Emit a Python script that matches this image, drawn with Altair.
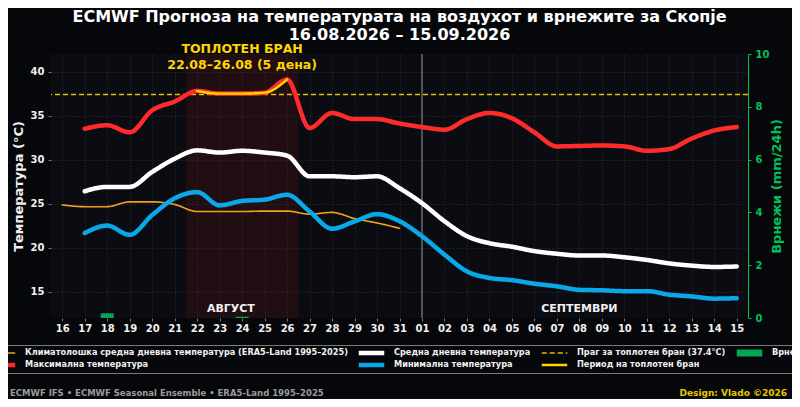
import altair as alt
import pandas as pd

# ---------------- data ----------------
fc_days = [f"2026-08-{d:02d}" for d in range(17, 32)] + [f"2026-09-{d:02d}" for d in range(1, 16)]
clim_days = [f"2026-08-{d:02d}" for d in range(16, 32)]

t_max = [33.5, 33.9, 33.1, 35.6, 36.6, 37.8, 37.5, 37.5, 37.6, 39.1, 33.6, 35.3, 34.6, 34.6, 34.1,
         33.7, 33.4, 34.6, 35.3, 34.7, 33.1, 31.5, 31.55, 31.6, 31.5, 31.0, 31.2, 32.4, 33.3, 33.7]
t_mean = [26.4, 26.9, 26.9, 28.6, 30.1, 31.05, 30.8, 31.0, 30.8, 30.45, 28.1, 28.1, 28.0, 28.1, 26.75,
          25.05, 23.0, 21.3, 20.5, 20.1, 19.6, 19.3, 19.1, 19.1, 18.9, 18.6, 18.2, 17.95, 17.8, 17.85]
t_min = [21.65, 22.5, 21.45, 23.7, 25.6, 26.3, 24.8, 25.3, 25.45, 26.0, 24.1, 22.15, 22.97, 23.8, 23.0,
         21.3, 19.2, 17.3, 16.55, 16.3, 15.9, 15.6, 15.2, 15.15, 15.05, 15.05, 14.65, 14.45, 14.2, 14.25]
t_clim = [24.85, 24.65, 24.65, 25.2, 25.2, 24.9, 24.1, 24.1, 24.1, 24.15, 24.15, 23.8, 24.0, 23.3, 22.8, 22.2]
precip = [0, 0.18, 0, 0, 0, 0, 0, 0.05, 0, 0, 0, 0, 0, 0, 0,
          0, 0, 0, 0, 0, 0, 0, 0, 0, 0, 0, 0, 0, 0, 0]

threshold = [37.4]
hw_first, hw_last = 5, 10          # 22.08 .. 26.08 in fc_days
hw_span = ["2026-08-21T12:00:00", "2026-08-26T12:00:00"]
hw_text = ["ТОПЛОТЕН БРАН", "22.08–26.08 (5 дена)"]
hw_text_x = ["2026-08-24T00:00:00"]
month_names = ["АВГУСТ", "СЕПТЕМВРИ"]
month_x = ["2026-08-23T12:00:00", "2026-09-08T00:00:00"]
month_split = ["2026-09-01T00:00:00"]
tick_days = [(8, d) for d in range(16, 32)] + [(9, d) for d in range(1, 16)]

S_CLIM = "Климатолошка средна дневна температура (ERA5-Land 1995–2025)"
S_MEAN = "Средна дневна температура"
S_THR = "Праг за топлотен бран (37.4°C)"
S_PR = "Врнежи (mm/24h)"
S_MAX = "Максимална температура"
S_MIN = "Минимална температура"
S_HW = "Период на топлотен бран"
series_order = [S_CLIM, S_MAX, S_MEAN, S_MIN, S_THR, S_HW, S_PR]
series_colors = ["#f0a21e", "#ff2b2b", "#ffffff", "#0aa8e8", "#e0c000", "#ffd400", "#00a651"]
series_widths = [1.6, 4.5, 4.5, 4.5, 1.6, 2.4, 7]
series_dashes = [[1, 0], [1, 0], [1, 0], [1, 0], [5, 3], [1, 0], [1, 0]]

title_lines = ["ECMWF Прогноза на температурата на воздухот и врнежите за Скопје",
               "16.08.2026 – 15.09.2026"]
footer_left = "ECMWF IFS • ECMWF Seasonal Ensemble • ERA5-Land 1995–2025"
footer_right = "Design: Vlado ©2026"

# ---------------- style ----------------
FONT = "DejaVu Sans"
BG = "#06070b"
PLOT_BG = "#0b0c11"
GREEN = "#00c05a"
W, H = 697, 264

def iso(d):
    return d + "T00:00:00"

df_max = pd.DataFrame({"date": [iso(d) for d in fc_days], "value": t_max, "series": S_MAX})
df_mean = pd.DataFrame({"date": [iso(d) for d in fc_days], "value": t_mean, "series": S_MEAN})
df_min = pd.DataFrame({"date": [iso(d) for d in fc_days], "value": t_min, "series": S_MIN})
df_clim = pd.DataFrame({"date": [iso(d) for d in clim_days], "value": t_clim, "series": S_CLIM})
df_hw = df_max.iloc[hw_first:hw_last].assign(series=S_HW)
df_pr = pd.DataFrame({"date": [iso(d) for d in fc_days], "precip": precip, "series": S_PR})
df_thr = pd.DataFrame({"value": threshold, "series": S_THR})
df_span = pd.DataFrame({"start": [hw_span[0]], "end": [hw_span[1]]})
df_hwt = pd.DataFrame({"date": hw_text_x, "l1": [hw_text[0]], "l2": [hw_text[1]]})
df_month = pd.DataFrame({"date": month_x, "name": month_names})
df_split = pd.DataFrame({"date": month_split})

x_domain = [alt.DateTime(year=2026, month=8, date=15, hours=12),
            alt.DateTime(year=2026, month=9, date=15, hours=12)]
x_axis = alt.Axis(values=[alt.DateTime(year=2026, month=m, date=d) for m, d in tick_days],
                  format="%d", title=None, labelFont=FONT, labelFontWeight="bold",
                  labelFontSize=10, labelColor="#f0f0f0", tickSize=3, labelPadding=2,
                  domain=False, grid=True, labelFlush=False, labelOverlap=False)

def X(field):
    return alt.X(f"{field}:T", scale=alt.Scale(domain=x_domain, nice=False, padding=0), axis=x_axis)

Y = alt.Y("value:Q", scale=alt.Scale(domain=[12, 42], nice=False, zero=False),
          axis=alt.Axis(values=[15, 20, 25, 30, 35, 40], title="Температура (°C)",
                        titleFont=FONT, titleFontWeight="bold", titleFontSize=13,
                        titleColor="#f0f0f0", titlePadding=5, labelFont=FONT,
                        labelFontWeight="bold", labelFontSize=10, labelColor="#f0f0f0",
                        tickSize=3, labelPadding=4, domain=False, grid=True))

legend = alt.Legend(
    orient="none", legendX=-67, legendY=291, columns=4, title=None,
    symbolType="stroke", symbolSize=650, clipHeight=12, rowPadding=0,
    columnPadding=7, labelOffset=6, padding=2, labelLimit=0, symbolLimit=0,
    labelFont=FONT, labelFontWeight="bold", labelFontSize=8.2, labelColor="#f0f0f0",
    strokeColor="#7a7a7a", fillColor=BG, symbolFillColor="transparent",
)
color = alt.Color("series:N", scale=alt.Scale(domain=series_order, range=series_colors),
                  legend=legend)
swidth = alt.StrokeWidth("series:N", scale=alt.Scale(type="ordinal", domain=series_order,
                                                     range=series_widths), legend=legend)
sdash = alt.StrokeDash("series:N", scale=alt.Scale(domain=series_order, range=series_dashes),
                       legend=legend)

shade = alt.Chart(df_span).mark_rect(color="#9a1c1c", opacity=0.15).encode(
    x=X("start"), x2="end:T", y=alt.value(0), y2=alt.value(H))

split = alt.Chart(df_split).mark_rule(color="#b8b8b8", strokeWidth=1, opacity=0.8).encode(x=X("date"))

thr = alt.Chart(df_thr).mark_rule().encode(y=Y, color=color, strokeWidth=swidth, strokeDash=sdash)

def line(df):
    return alt.Chart(df).mark_line(interpolate="monotone", strokeCap="round",
                                   strokeJoin="round").encode(
        x=X("date"), y=Y, color=color, strokeWidth=swidth, strokeDash=sdash)

l_clim = line(df_clim)
l_max = line(df_max)
l_mean = line(df_mean)
l_min = line(df_min)
l_hw = line(df_hw)

txt_style = dict(font=FONT, fontWeight="bold")
hw1 = alt.Chart(df_hwt).mark_text(fontSize=12.5, color="#ffd400", baseline="middle", **txt_style).encode(
    x=X("date"), y=alt.value(-5), text="l1:N")
hw2 = alt.Chart(df_hwt).mark_text(fontSize=12.5, color="#ffd400", baseline="middle", **txt_style).encode(
    x=X("date"), y=alt.value(11), text="l2:N")
months = alt.Chart(df_month).mark_text(fontSize=11, color="#f0f0f0", baseline="middle", **txt_style).encode(
    x=X("date"), y=alt.value(255), text="name:N")
foot_l = alt.Chart(df_split).mark_text(fontSize=8.5, color="#9a9a9a", align="left", baseline="middle",
                                       text=footer_left, **txt_style).encode(
    x=alt.value(-41), y=alt.value(339))
foot_r = alt.Chart(df_split).mark_text(fontSize=9, color="#e6c800", align="right", baseline="middle",
                                       text=footer_right, **txt_style).encode(
    x=alt.value(736), y=alt.value(339))

temp = alt.layer(shade, split, thr, l_clim, l_min, l_mean, l_max, l_hw, hw1, hw2, months, foot_l, foot_r)

bars = alt.Chart(df_pr).mark_bar(size=13).encode(
    x=X("date"),
    y=alt.Y("precip:Q", scale=alt.Scale(domain=[0, 10], nice=False),
            axis=alt.Axis(orient="right", values=[0, 2, 4, 6, 8, 10], title="Врнежи (mm/24h)",
                          titleFont=FONT, titleFontWeight="bold", titleFontSize=13,
                          titleColor=GREEN, titleAngle=270, titlePadding=15,
                          labelFont=FONT, labelFontWeight="bold", labelFontSize=10,
                          labelColor=GREEN, tickColor=GREEN, domainColor=GREEN,
                          tickSize=3, labelPadding=4, grid=False, domain=True)),
    color=color, strokeWidth=swidth, strokeDash=sdash)

chart = alt.layer(temp, bars).resolve_scale(y="independent").properties(
    width=W, height=H,
    padding={"left": 43, "top": 46, "right": 44, "bottom": 81},
    autosize=alt.AutoSizeParams(type="none"),
    background=BG,
    title=alt.Title(title_lines, font=FONT, fontWeight="bold", fontSize=16, color="#ffffff",
                    anchor="middle", frame="group", offset=0, lineHeight=18),
).configure_view(fill=PLOT_BG, stroke=None).configure_axis(
    gridColor="#3a3b40", gridDash=[1, 2], gridWidth=0.7, tickColor="#777777"
)

chart.save("out.html", embed_options={"renderer": "svg", "actions": False})
